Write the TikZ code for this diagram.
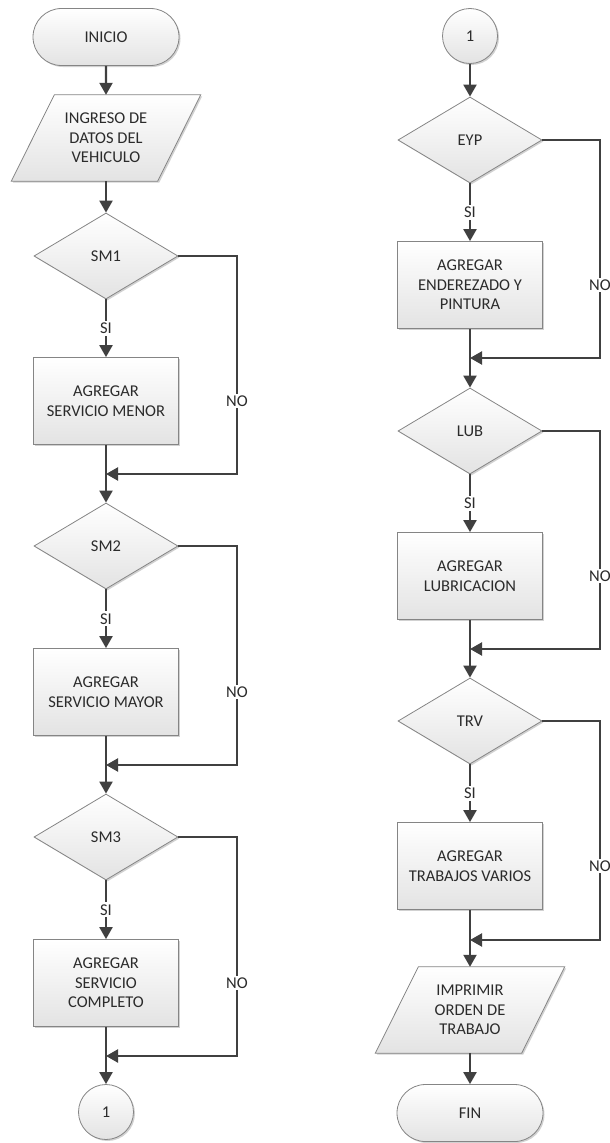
\documentclass[tikz,border=0pt]{standalone}
\usepackage{fontspec}
\setmainfont{Carlito}
\usetikzlibrary{shapes.geometric,shapes.misc,arrows.meta,shadows}
\definecolor{edgegray}{HTML}{858585}
\definecolor{wiregray}{HTML}{404040}
\definecolor{ink}{HTML}{2B2B2B}
\pgfdeclarelayer{bg}
\pgfsetlayers{bg,main}

\begin{document}
\begin{tikzpicture}[x=1pt,y=-1pt,
  font=\fontsize{16.5}{19.5}\selectfont, text=ink,
  shapebase/.style={draw=edgegray, line width=0.8pt, top color=white, bottom color=black!11,
    drop shadow={shadow xshift=1.5pt, shadow yshift=-1.5pt, fill=black, opacity=0.18}},
  terminal/.style={shapebase, rounded rectangle, minimum width=146pt, minimum height=57pt, inner sep=0pt},
  process/.style={shapebase, rectangle, minimum width=145pt, minimum height=87pt, align=center, inner sep=0pt},
  decision/.style={shapebase, diamond, minimum width=144pt, minimum height=86pt, inner sep=0pt},
  joiner/.style={shapebase, circle, minimum size=55pt, inner sep=0pt},
  iobox/.style={rectangle, minimum width=146pt, minimum height=86pt, align=center, inner sep=0pt},
  ioshape/.style={shapebase},
  wire/.style={draw=wiregray, line width=2.2pt, -{Triangle[length=12pt,width=13pt]}},
  lbl/.style={fill=white, inner sep=2pt, text=ink}]

\useasboundingbox (0,0) rectangle (610,1143);

% ---- left column ----
\node[terminal] (ini) at (106,37) {INICIO};
\node[iobox] (in1) at (106,138) {INGRESO DE\\DATOS DEL\\VEHICULO};
\node[decision] (sm1) at (106,256) {SM1};
\node[process] (b1) at (106,401) {AGREGAR\\SERVICIO MENOR};
\node[decision] (sm2) at (106,546) {SM2};
\node[process] (b2) at (106,692) {AGREGAR\\SERVICIO MAYOR};
\node[decision] (sm3) at (106,837) {SM3};
\node[process] (b3) at (106,983) {AGREGAR\\SERVICIO\\COMPLETO};
\node[joiner] (c1) at (106,1112) {1};

% ---- right column ----
\node[joiner] (c2) at (470,36) {1};
\node[decision] (eyp) at (470,140) {EYP};
\node[process] (b4) at (470,285) {AGREGAR\\ENDEREZADO Y\\PINTURA};
\node[decision] (lub) at (470,431) {LUB};
\node[process] (b5) at (470,576) {AGREGAR\\LUBRICACION};
\node[decision] (trv) at (470,721) {TRV};
\node[process] (b6) at (470,866) {AGREGAR\\TRABAJOS VARIOS};
\node[iobox] (out) at (470,1010) {IMPRIMIR\\ORDEN DE\\TRABAJO};
\node[terminal] (fin) at (470,1113) {FIN};

% parallelogram outlines behind the input/output texts
\begin{pgfonlayer}{bg}
  \foreach \p in {in1,out}{
    \path[ioshape] ([xshift=21.5pt]\p.north west) -- ([xshift=21.5pt]\p.north east)
      -- ([xshift=-21.5pt]\p.south east) -- ([xshift=-21.5pt]\p.south west) -- cycle;
  }
\end{pgfonlayer}

% corner and merge points of the NO branches
\coordinate (k1) at (237,474); \coordinate (m1) at (106,474);
\coordinate (k2) at (237,765); \coordinate (m2) at (106,765);
\coordinate (k3) at (237,1056); \coordinate (m3) at (106,1056);
\coordinate (k4) at (600,358); \coordinate (m4) at (470,358);
\coordinate (k5) at (600,649); \coordinate (m5) at (470,649);
\coordinate (k6) at (600,940); \coordinate (m6) at (470,940);

% main flow
\draw[wire] (ini) -- (in1);
\draw[wire] (in1) -- (sm1);
\draw[wire] (sm1) -- node[lbl] (si1) {SI} (b1);
\draw[wire] (b1) -- (sm2);
\draw[wire] (sm2) -- node[lbl] (si2) {SI} (b2);
\draw[wire] (b2) -- (sm3);
\draw[wire] (sm3) -- node[lbl] (si3) {SI} (b3);
\draw[wire] (b3) -- (c1);

\draw[wire] (c2) -- (eyp);
\draw[wire] (eyp) -- node[lbl] (si4) {SI} (b4);
\draw[wire] (b4) -- (lub);
\draw[wire] (lub) -- node[lbl] (si5) {SI} (b5);
\draw[wire] (b5) -- (trv);
\draw[wire] (trv) -- node[lbl] (si6) {SI} (b6);
\draw[wire] (b6) -- (out);
\draw[wire] (out) -- (fin);

% NO branches
\draw[wire] (sm1.east) -| (k1) -- (m1);
\draw[wire] (sm2.east) -| (k2) -- (m2);
\draw[wire] (sm3.east) -| (k3) -- (m3);
\draw[wire] (eyp.east) -| (k4) -- (m4);
\draw[wire] (lub.east) -| (k5) -- (m5);
\draw[wire] (trv.east) -| (k6) -- (m6);

\node[lbl] (no1) at (k1 |- b1) {NO};
\node[lbl] (no2) at (k2 |- b2) {NO};
\node[lbl] (no3) at (k3 |- b3) {NO};
\node[lbl] (no4) at (k4 |- b4) {NO};
\node[lbl] (no5) at (k5 |- b5) {NO};
\node[lbl] (no6) at (k6 |- b6) {NO};
\end{tikzpicture}
\end{document}
